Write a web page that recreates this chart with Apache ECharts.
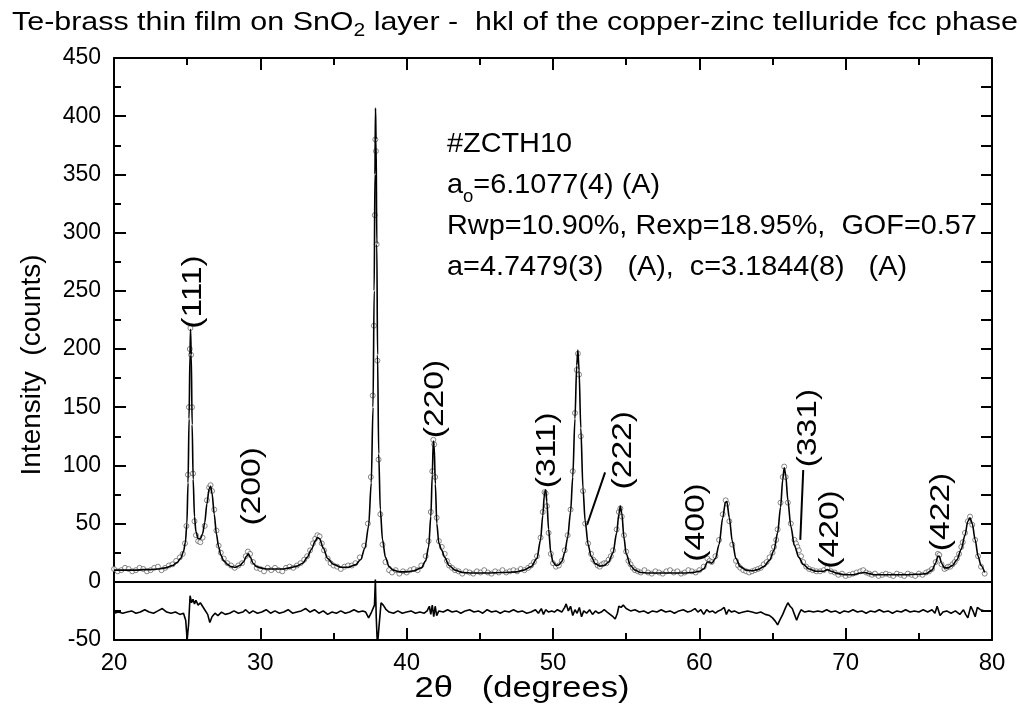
<!DOCTYPE html>
<html>
<head>
<meta charset="utf-8">
<script src="https://cdn.jsdelivr.net/npm/echarts@6/dist/echarts.min.js"></script>
<style>
  html, body { margin: 0; padding: 0; background: #fff; }
  #chart { width: 1020px; height: 713px; }
</style>
</head>
<body>
<div id="chart"></div>
<script>
// observed pattern, [2theta, counts]
const observed = [
  [20.0,11],[20.25,9],[20.5,10],[20.75,12],[21.0,11],[21.25,9],[21.5,10],[21.75,12],[22.0,11],[22.25,9],[22.5,10],[22.75,12],
  [23.0,13],[23.25,10],[23.5,12],[23.75,14],[24.0,15],[24.25,18],[24.5,21],[24.7,24],[24.85,33],[24.95,48],[25.05,92],[25.12,150],
  [25.18,200],[25.22,218],[25.27,195],[25.33,150],[25.4,93],[25.5,52],[25.6,40],[25.75,35],[25.9,34],[26.05,38],[26.2,48],[26.35,70],
  [26.5,81],[26.6,83],[26.7,78],[26.85,62],[27.0,44],[27.15,31],[27.3,25],[27.5,20],[27.75,16],[28.0,14],[28.25,12],[28.5,14],
  [28.75,16],[29.0,22],[29.15,26],[29.3,24],[29.5,17],[29.75,12],[30.0,11],[30.25,9],[30.5,12],[30.75,10],[31.0,12],[31.25,10],
  [31.5,9],[31.75,12],[32.0,13],[32.25,12],[32.5,14],[32.75,16],[33.0,19],[33.2,22],[33.4,27],[33.6,33],[33.75,37],[33.9,40],
  [34.05,39],[34.2,33],[34.35,27],[34.6,20],[34.8,16],[35.0,14],[35.25,13],[35.5,11],[35.75,13],[36.0,14],[36.25,14],[36.5,16],
  [36.8,21],[37.1,31],[37.35,50],[37.55,90],[37.68,160],[37.76,220],[37.82,315],[37.86,380],[37.9,370],[37.95,290],[38.0,190],[38.08,105],
  [38.2,58],[38.35,32],[38.55,17],[38.8,10],[39.0,8],[39.25,10],[39.5,7],[39.75,9],[40.0,8],[40.25,10],[40.5,11],[40.75,10],
  [41.0,14],[41.3,22],[41.5,35],[41.65,60],[41.75,95],[41.82,122],[41.88,118],[41.95,90],[42.05,55],[42.2,35],[42.4,30],[42.6,24],
  [42.75,18],[42.9,14],[43.1,12],[43.3,10],[43.55,9],[43.8,7],[44.05,9],[44.3,8],[44.55,7],[44.8,9],[45.05,8],[45.3,10],
  [45.55,8],[45.8,7],[46.05,9],[46.3,8],[46.55,10],[46.8,8],[47.05,9],[47.3,10],[47.55,9],[47.8,11],[48.05,10],[48.3,12],
  [48.5,14],[48.7,17],[48.9,22],[49.15,38],[49.3,60],[49.42,77],[49.5,76],[49.58,65],[49.7,42],[49.85,24],[50.0,16],[50.2,13],
  [50.4,14],[50.6,18],[50.8,27],[51.0,40],[51.2,62],[51.35,95],[51.5,145],[51.62,182],[51.7,196],[51.78,178],[51.9,125],[52.05,78],
  [52.2,50],[52.4,33],[52.6,24],[52.75,19],[52.9,17],[53.05,14],[53.2,13],[53.35,15],[53.5,16],[53.65,16],[53.8,19],[53.95,22],
  [54.1,27],[54.35,45],[54.5,60],[54.6,63],[54.7,56],[54.85,40],[55.0,26],[55.15,18],[55.3,15],[55.45,12],[55.6,10],[55.8,9],
  [56.0,8],[56.25,10],[56.5,8],[56.75,7],[57.0,9],[57.25,8],[57.5,7],[57.75,9],[58.0,10],[58.25,8],[58.5,9],[58.75,7],
  [59.0,8],[59.25,10],[59.5,9],[59.75,8],[60.0,10],[60.3,13],[60.55,20],[60.7,18],[60.85,17],[61.1,22],[61.35,36],[61.6,58],
  [61.8,70],[61.9,67],[62.05,52],[62.25,32],[62.5,18],[62.65,14],[62.8,12],[63.0,10],[63.2,9],[63.4,8],[63.6,9],[63.8,10],
  [64.0,11],[64.2,12],[64.4,15],[64.6,17],[64.8,21],[65.0,25],[65.1,30],[65.25,36],[65.35,45],[65.55,68],[65.7,90],[65.8,99],
  [65.9,90],[66.05,68],[66.25,50],[66.5,36],[66.6,33],[66.7,30],[66.8,27],[66.95,22],[67.1,17],[67.3,13],[67.5,11],[67.75,10],
  [68.0,9],[68.25,9],[68.5,10],[68.75,12],[69.0,9],[69.25,8],[69.5,6],[69.75,7],[70.0,5],[70.25,6],[70.5,7],[70.75,8],
  [71.0,9],[71.2,10],[71.4,8],[71.6,7],[71.8,6],[72.0,7],[72.25,5],[72.5,6],[72.75,7],[73.0,6],[73.25,5],[73.5,7],
  [73.75,6],[74.0,5],[74.25,7],[74.5,6],[74.75,5],[75.0,7],[75.25,6],[75.5,8],[75.7,9],[75.9,11],[76.15,17],[76.3,24],
  [76.4,23],[76.55,15],[76.75,11],[76.9,12],[77.0,13],[77.15,13],[77.3,15],[77.45,17],[77.6,20],[77.75,24],[77.9,30],[78.0,34],
  [78.15,42],[78.35,52],[78.5,56],[78.65,49],[78.85,36],[79.05,22],[79.25,13],[79.5,7]
];

// refined (calculated) profile, [2theta, counts]
const calculated = [
  [20,10],[20.5,10],[21,10],[21.5,10],[22,10.5],[22.5,10.5],[23,11],[23.5,12],[24,14],[24.3,16.5],[24.55,20],[24.75,26],
  [24.88,34],[24.98,50],[25.06,85],[25.13,140],[25.19,195],[25.23,217],[25.28,195],[25.34,135],[25.41,88],[25.5,56],[25.6,43],[25.75,37],
  [25.9,37],[26.05,41],[26.2,51],[26.35,67],[26.5,80],[26.6,82],[26.7,76],[26.85,58],[27.0,41],[27.15,30],[27.3,23],[27.5,18],
  [27.75,15],[28.0,13],[28.3,12.5],[28.6,14],[28.85,17],[29.05,22],[29.18,24],[29.32,21],[29.5,16],[29.75,13],[30.0,12],[30.5,11],
  [31.0,11],[31.5,11],[32.0,12],[32.5,13.5],[32.9,16],[33.2,21],[33.5,28],[33.75,35],[33.9,38],[34.05,37],[34.3,29],[34.6,20],
  [35.0,15],[35.5,12.5],[36.0,12.5],[36.5,14.5],[36.85,19],[37.15,29],[37.4,48],[37.58,85],[37.7,150],[37.78,250],[37.83,350],[37.87,407],
  [37.91,380],[37.96,290],[38.01,195],[38.09,110],[38.2,62],[38.35,36],[38.55,21],[38.8,13],[39.1,10],[39.5,8.5],[40.0,8.5],[40.5,9.5],
  [41.0,12],[41.3,18],[41.5,30],[41.65,56],[41.75,92],[41.82,121],[41.88,117],[41.96,84],[42.06,50],[42.2,33],[42.4,27],[42.6,21],
  [42.9,14],[43.3,10],[43.8,8],[44.5,7.5],[45.5,7.5],[46.5,8],[47.5,8.5],[48,10],[48.5,13],[48.9,20],[49.15,36],[49.3,57],
  [49.42,76],[49.5,79],[49.58,69],[49.7,45],[49.85,25],[50.0,17],[50.2,14],[50.4,14.5],[50.6,17.5],[50.8,25],[51.0,38],[51.2,60],
  [51.35,90],[51.5,140],[51.62,186],[51.7,199],[51.78,182],[51.9,132],[52.05,80],[52.2,52],[52.4,32],[52.6,22],[52.9,15.5],[53.2,13.5],
  [53.5,14],[53.8,17],[54.1,25],[54.35,42],[54.5,58],[54.6,65],[54.7,59],[54.85,38],[55.0,24],[55.3,14],[55.6,10],[56,8],
  [56.5,7.5],[57,7.5],[58,7.5],[59,7.5],[59.5,8],[60,9],[60.3,11],[60.55,17],[60.7,17],[60.85,16],[61.1,20],[61.35,32],
  [61.6,55],[61.78,68],[61.88,69],[62.05,55],[62.25,35],[62.5,20],[62.8,13],[63.2,10],[63.6,9.5],[64.0,10.5],[64.4,13],[64.8,18.5],
  [65.1,27],[65.35,42],[65.55,64],[65.7,88],[65.8,98],[65.9,92],[66.05,70],[66.25,48],[66.5,31],[66.8,21],[67.1,15],[67.5,11],
  [68.0,9],[68.5,9],[68.75,10.5],[69.0,9],[69.5,7],[70.0,6],[70.5,6],[71.0,7.5],[71.3,8],[71.6,7],[72,6],[73,6],
  [74,6],[75,6.5],[75.5,7],[75.9,10],[76.15,16],[76.3,22],[76.4,22],[76.55,16],[76.75,12],[77.0,12],[77.3,14],[77.6,19],
  [77.9,28],[78.15,40],[78.35,52],[78.5,55],[78.65,50],[78.85,36],[79.05,22],[79.25,14],[79.5,8]
];

// difference curve (obs - calc), drawn shifted below zero
const difference = [
  [20,-27],[20.3,-26],[20.6,-27],[20.9,-26],[21.2,-25],[21.5,-27],[21.8,-26],[22.1,-24],[22.4,-26],[22.7,-27],[23.0,-25],[23.3,-23],
  [23.6,-26],[23.9,-27],[24.2,-26],[24.5,-28],[24.75,-27],[24.9,-33],[25.0,-50],[25.1,-36],[25.2,-12],[25.3,-18],[25.4,-15],[25.5,-19],
  [25.6,-16],[25.75,-20],[25.9,-18],[26.05,-21],[26.2,-24],[26.4,-28],[26.55,-35],[26.7,-30],[26.9,-27],[27.1,-29],[27.35,-26],[27.6,-28],
  [27.9,-27],[28.2,-25],[28.5,-27],[28.8,-26],[29.0,-24],[29.25,-27],[29.5,-25],[29.8,-27],[30.1,-26],[30.4,-24],[30.7,-27],[31.0,-25],
  [31.3,-27],[31.6,-26],[31.9,-24],[32.2,-27],[32.5,-26],[32.8,-25],[33.1,-23],[33.4,-26],[33.7,-24],[34.0,-27],[34.3,-25],[34.6,-28],
  [34.9,-26],[35.2,-27],[35.5,-25],[35.8,-27],[36.1,-26],[36.4,-24],[36.7,-26],[37.0,-25],[37.2,-26],[37.4,-31],[37.6,-26],[37.8,-20],
  [37.86,2],[37.92,-30],[38.0,-55],[38.1,-40],[38.25,-18],[38.4,-20],[38.6,-24],[38.8,-26],[39.1,-27],[39.4,-25],[39.7,-27],[40.0,-26],
  [40.3,-25],[40.6,-27],[40.9,-26],[41.2,-27],[41.4,-25],[41.55,-21],[41.65,-28],[41.75,-20],[41.85,-30],[41.95,-21],[42.05,-29],[42.2,-25],
  [42.5,-26],[42.8,-24],[43.1,-26],[43.4,-25],[43.7,-27],[44.0,-25],[44.3,-24],[44.6,-26],[44.9,-25],[45.2,-27],[45.5,-24],[45.8,-26],
  [46.1,-25],[46.4,-27],[46.7,-25],[47.0,-26],[47.3,-24],[47.6,-26],[47.9,-25],[48.2,-27],[48.5,-26],[48.8,-24],[49.0,-27],[49.2,-23],
  [49.35,-28],[49.5,-24],[49.7,-26],[49.9,-25],[50.1,-26],[50.3,-24],[50.6,-26],[50.8,-22],[50.9,-19],[51.05,-25],[51.2,-21],[51.35,-29],
  [51.5,-24],[51.65,-27],[51.8,-22],[51.95,-30],[52.1,-25],[52.3,-27],[52.5,-24],[52.7,-28],[52.9,-25],[53.1,-27],[53.3,-26],[53.5,-24],
  [53.7,-26],[53.9,-28],[54.1,-30],[54.25,-32],[54.4,-27],[54.5,-21],[54.65,-22],[54.8,-20],[55.0,-23],[55.3,-25],[55.6,-24],[55.9,-26],
  [56.2,-25],[56.5,-27],[56.8,-25],[57.1,-26],[57.4,-24],[57.7,-26],[58.0,-25],[58.3,-27],[58.6,-25],[58.9,-24],[59.2,-26],[59.45,-25],
  [59.7,-23],[59.9,-26],[60.1,-24],[60.3,-28],[60.5,-24],[60.7,-26],[60.9,-25],[61.1,-27],[61.3,-25],[61.5,-24],[61.7,-22],[61.85,-28],
  [62.0,-24],[62.2,-26],[62.4,-25],[62.7,-27],[63.0,-26],[63.3,-25],[63.6,-26],[63.9,-27],[64.2,-26],[64.5,-28],[64.8,-29],[65.0,-31],
  [65.2,-34],[65.35,-37],[65.5,-33],[65.7,-28],[65.9,-22],[66.05,-18],[66.2,-21],[66.35,-23],[66.5,-28],[66.65,-33],[66.8,-28],[66.95,-24],
  [67.2,-26],[67.5,-25],[67.8,-26],[68.1,-25],[68.4,-26],[68.7,-24],[69.0,-26],[69.3,-25],[69.6,-27],[69.9,-25],[70.2,-26],[70.5,-24],
  [70.8,-26],[71.1,-25],[71.4,-27],[71.7,-25],[72.0,-26],[72.3,-24],[72.6,-26],[72.9,-25],[73.2,-27],[73.5,-25],[73.8,-26],[74.1,-24],
  [74.4,-26],[74.7,-25],[75.0,-26],[75.3,-24],[75.6,-26],[75.9,-24],[76.1,-27],[76.25,-21],[76.45,-29],[76.65,-26],[76.9,-25],[77.2,-27],
  [77.5,-25],[77.8,-28],[78.05,-24],[78.2,-28],[78.35,-31],[78.55,-21],[78.7,-25],[78.85,-30],[79.0,-22],[79.2,-24],[79.5,-25]
];

// hkl reflections of the fcc phase: label, 2theta and height of label centre
const hklNames = ['(111)', '(200)', '(220)', '(311)', '(222)', '(400)', '(331)', '(420)', '(422)'];
const hklAngles = [25.40, 29.43, 41.94, 49.60, 54.79, 59.78, 67.44, 68.94, 76.53];
const hklHeights = [249, 82, 157, 113, 113, 51, 132, 45, 60];

// leader lines from label to peak
const leaders = [
  [[53.56, 94], [52.33, 49]],
  [[67.10, 96], [66.90, 36]]
];

const infoLines = [
  '#ZCTH10',
  'a{sub|o}=6.1077(4) (A)',
  'Rwp=10.90%, Rexp=18.95%,  GOF=0.57',
  'a=4.7479(3)   (A),  c=3.1844(8)   (A)'
];

const xTicks = { min: 20, max: 80, interval: 10 };
const yTicks = { min: -50, max: 450, interval: 50 };

const font = 'Liberation Sans';
const ink = '#000';
const subStyle = { fontSize: 18, fontFamily: font, fill: ink, verticalAlign: 'bottom', lineHeight: 14 };

const chart = echarts.init(document.getElementById('chart'), null, { renderer: 'canvas' });

const axisLine = { onZero: false, lineStyle: { color: ink, width: 2 } };

const option = {
  animation: false,
  backgroundColor: '#fff',
  grid: { left: 114, right: 28, top: 58, bottom: 73 },
  xAxis: [
    {
      type: 'value', min: xTicks.min, max: xTicks.max, interval: xTicks.interval,
      axisLine: axisLine,
      axisTick: { inside: true, length: 12, lineStyle: { color: ink, width: 2 } },
      minorTick: { show: true, splitNumber: 2, length: 7, lineStyle: { color: ink, width: 2 } },
      axisLabel: { color: ink, fontSize: 24, fontFamily: font, margin: 11 },
      splitLine: { show: false }
    },
    {
      type: 'value', position: 'top', min: xTicks.min, max: xTicks.max, interval: xTicks.interval,
      axisLine: axisLine,
      axisTick: { inside: true, length: 12, lineStyle: { color: ink, width: 2 } },
      minorTick: { show: true, splitNumber: 2, length: 7, lineStyle: { color: ink, width: 2 } },
      axisLabel: { show: false },
      splitLine: { show: false }
    }
  ],
  yAxis: [
    {
      type: 'value', min: yTicks.min, max: yTicks.max, interval: yTicks.interval,
      axisLine: axisLine,
      axisTick: { inside: true, length: 12, lineStyle: { color: ink, width: 2 } },
      minorTick: { show: true, splitNumber: 2, length: 7, lineStyle: { color: ink, width: 2 } },
      axisLabel: { color: ink, fontSize: 23, fontFamily: font, margin: 13 },
      splitLine: { show: false }
    },
    {
      type: 'value', position: 'right', min: yTicks.min, max: yTicks.max, interval: yTicks.interval / 2,
      axisLine: axisLine,
      axisTick: { inside: true, length: 11, lineStyle: { color: ink, width: 2 } },
      axisLabel: { show: false },
      splitLine: { show: false }
    }
  ],
  graphic: [
    {
      id: 'title', type: 'text', x: 12, y: 6, scaleX: 1.17,
      style: {
        text: 'Te-brass thin film on SnO{sub|2} layer -  hkl of the copper-zinc telluride fcc phase',
        fill: ink, fontSize: 26, fontFamily: font, lineHeight: 34,
        rich: { sub: subStyle }
      }
    },
    {
      id: 'info', type: 'text', x: 447, y: 124, scaleX: 1.03,
      style: {
        text: infoLines.join('\n'),
        fill: ink, fontSize: 28, fontFamily: font, lineHeight: 41,
        rich: { sub: subStyle }
      }
    },
    {
      id: 'ytitle', type: 'text', x: 32, y: 365, rotation: Math.PI / 2,
      style: {
        text: 'Intensity  (counts)', fill: ink, fontSize: 28, fontFamily: font,
        align: 'center', verticalAlign: 'middle'
      }
    },
    {
      id: 'xtitle', type: 'text', x: 522, y: 689, scaleX: 1.15,
      style: {
        text: '2\u03b8   (degrees)', fill: ink, fontSize: 30, fontFamily: font,
        align: 'center', verticalAlign: 'middle'
      }
    }
  ],
  series: [
    {
      name: 'observed', type: 'scatter', data: observed,
      symbol: 'circle', symbolSize: 5,
      itemStyle: { color: '#fff', borderColor: '#444', borderWidth: 0.8 },
      z: 2
    },
    {
      name: 'calculated', type: 'line', data: calculated,
      showSymbol: false, smooth: 0.3, smoothMonotone: 'x',
      lineStyle: { color: ink, width: 1.6 },
      z: 3
    },
    {
      name: 'difference', type: 'line', data: difference,
      showSymbol: false, clip: true,
      lineStyle: { color: ink, width: 1.6 },
      markLine: {
        silent: true, symbol: 'none', label: { show: false },
        lineStyle: { color: ink, width: 2, type: 'solid' },
        data: [{ yAxis: 0 }].concat(leaders.map(function (l) {
          return [{ coord: l[0] }, { coord: l[1] }];
        }))
      },
      z: 3
    }
  ]
};

chart.setOption(option);

// hkl labels: placed through the grid's own scales, rotated and widened like the original
const hklGraphics = hklNames.map(function (n, i) {
  const p = chart.convertToPixel({ gridIndex: 0 }, [hklAngles[i], hklHeights[i]]);
  return {
    id: 'hkl' + i, type: 'text', x: p[0], y: p[1],
    rotation: Math.PI / 2, scaleX: 1.2,
    style: { text: n, fill: ink, fontSize: 28, fontFamily: font, align: 'center', verticalAlign: 'middle' },
    z: 10
  };
});
chart.setOption({ graphic: hklGraphics });

window.addEventListener('resize', () => chart.resize());
</script>
</body>
</html>
